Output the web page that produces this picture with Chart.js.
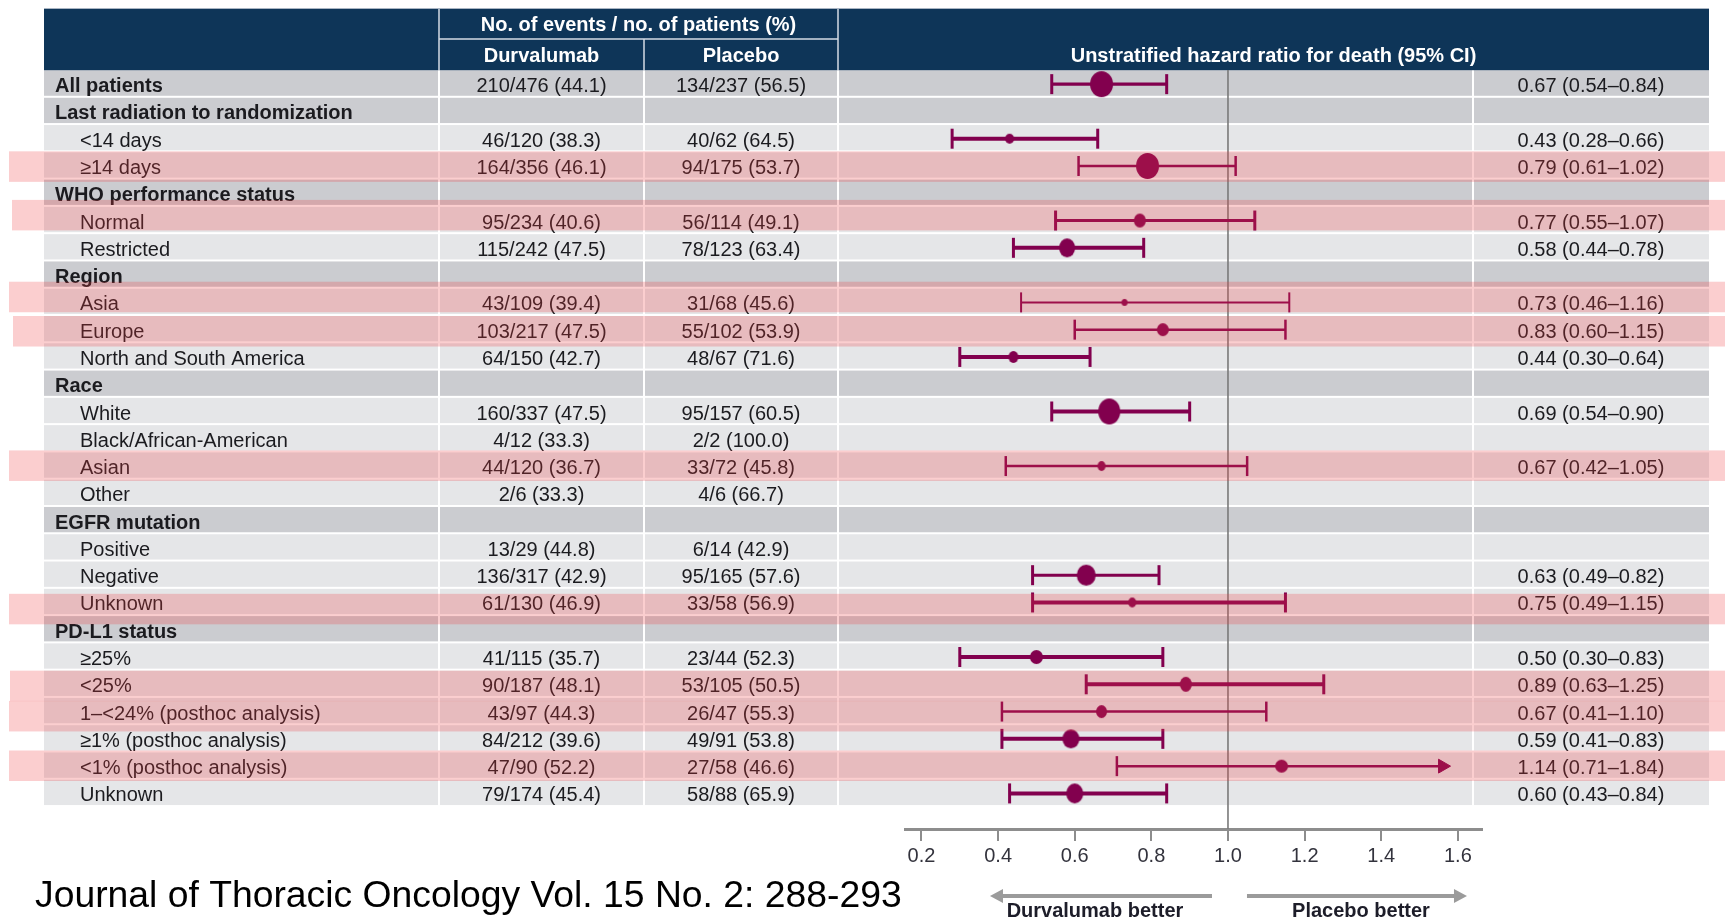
<!DOCTYPE html>
<html>
<head>
<meta charset="utf-8">
<title>Overall survival by subgroup</title>
<script src="https://cdn.jsdelivr.net/npm/chart.js@4.4.1/dist/chart.umd.min.js"></script>
<style>
  html, body { margin: 0; padding: 0; background: #ffffff; overflow: hidden; }
  canvas { display: block; }
</style>
</head>
<body>
<canvas id="forest" width="1725" height="921"></canvas>
<script>
// ---- Subgroup data -------------------------------------------------------
const subgroups = [
  'All patients',
  'Last radiation to randomization', '<14 days', '≥14 days',
  'WHO performance status', 'Normal', 'Restricted',
  'Region', 'Asia', 'Europe', 'North and South America',
  'Race', 'White', 'Black/African-American', 'Asian', 'Other',
  'EGFR mutation', 'Positive', 'Negative', 'Unknown',
  'PD-L1 status', '≥25%', '<25%', '1–<24% (posthoc analysis)',
  '≥1% (posthoc analysis)', '<1% (posthoc analysis)', 'Unknown'
];
const sectionHeadings = [
  'All patients', 'Last radiation to randomization', 'WHO performance status',
  'Region', 'Race', 'EGFR mutation', 'PD-L1 status'
];

// Durvalumab arm: events, patients, percent
const durEvents   = [210, null, 46, 164, null, 95, 115, null, 43, 103, 64, null, 160, 4, 44, 2, null, 13, 136, 61, null, 41, 90, 43, 84, 47, 79];
const durPatients = [476, null, 120, 356, null, 234, 242, null, 109, 217, 150, null, 337, 12, 120, 6, null, 29, 317, 130, null, 115, 187, 97, 212, 90, 174];
const durPct      = [44.1, null, 38.3, 46.1, null, 40.6, 47.5, null, 39.4, 47.5, 42.7, null, 47.5, 33.3, 36.7, 33.3, null, 44.8, 42.9, 46.9, null, 35.7, 48.1, 44.3, 39.6, 52.2, 45.4];

// Placebo arm: events, patients, percent
const plbEvents   = [134, null, 40, 94, null, 56, 78, null, 31, 55, 48, null, 95, 2, 33, 4, null, 6, 95, 33, null, 23, 53, 26, 49, 27, 58];
const plbPatients = [237, null, 62, 175, null, 114, 123, null, 68, 102, 67, null, 157, 2, 72, 6, null, 14, 165, 58, null, 44, 105, 47, 91, 58, 88];
const plbPct      = [56.5, null, 64.5, 53.7, null, 49.1, 63.4, null, 45.6, 53.9, 71.6, null, 60.5, 100.0, 45.8, 66.7, null, 42.9, 57.6, 56.9, null, 52.3, 50.5, 55.3, 53.8, 46.6, 65.9];

// Unstratified hazard ratio for death with 95% CI
const hazardRatio = [0.67, null, 0.43, 0.79, null, 0.77, 0.58, null, 0.73, 0.83, 0.44, null, 0.69, null, 0.67, null, null, null, 0.63, 0.75, null, 0.50, 0.89, 0.67, 0.59, 1.14, 0.60];
const ciLower     = [0.54, null, 0.28, 0.61, null, 0.55, 0.44, null, 0.46, 0.60, 0.30, null, 0.54, null, 0.42, null, null, null, 0.49, 0.49, null, 0.30, 0.63, 0.41, 0.41, 0.71, 0.43];
const ciUpper     = [0.84, null, 0.66, 1.02, null, 1.07, 0.78, null, 1.16, 1.15, 0.64, null, 0.90, null, 1.05, null, null, null, 0.82, 1.15, null, 0.83, 1.25, 1.10, 0.83, 1.84, 0.84];

const xTickValues = [0.2, 0.4, 0.6, 0.8, 1.0, 1.2, 1.4, 1.6];
const highlightedRows = [3, 5, 8, 9, 14, 19, 22, 23, 25];

// ---- Layout and style ----------------------------------------------------
const W = 1725, H = 921;
const FONT = '"Liberation Sans", Arial, Helvetica, sans-serif';
const MARK = '#82004e';
const TEXT = '#1b1b1f';
const TABLE_L = 44, TABLE_R = 1709;
const COL_DUR = 439, COL_PLB = 644, COL_PLOT = 838, COL_HR = 1473;
const HEAD_TOP = 8, HEAD_MID = 39;
const ROW_PX = 27.28, BODY_TOP = 70.5;
const AREA_TOP = 70, AREA_BOTTOM = 829, AREA_LEFT = 905, AREA_RIGHT = 1482;
const X_MIN = 0.157, X_MAX = 1.663;
const X_ARROW = 1.56;                       // CI beyond the axis ends in an arrow here
const yMin = -0.5 - (BODY_TOP - AREA_TOP) / ROW_PX;
const yMax = yMin + (AREA_BOTTOM - AREA_TOP) / ROW_PX;
const TEXT_DY = 2.5;                        // text sits a little below row centre

// marker ellipse size [w, h] and CI stroke per row
const markerSize = {0:[23,26], 2:[9,10], 3:[23,26], 5:[12,14], 6:[16,19], 8:[6,7], 9:[12,13], 10:[10,12],
  12:[22,26], 14:[8,10], 18:[19,21], 19:[8,10], 21:[13,14], 22:[12,15], 23:[11,13], 24:[17,19], 25:[13,13], 26:[17,20]};
const ciStroke = {0:3.2, 2:4, 3:2.5, 5:3, 6:4, 8:2, 9:2.5, 10:4, 12:4, 14:2.5, 18:3, 19:4, 21:4, 22:4, 23:2.5, 24:4, 25:2.5, 26:4};
// pink highlight bands: left edge and vertical shift
const bandLeft  = {3:9, 5:12, 8:9, 9:13, 14:9, 19:9, 22:10, 23:9, 25:9};
const bandShift = {3:-1, 5:-7, 8:-7, 9:0, 14:-2, 19:5, 22:0, 23:3, 25:-2};

function ellipseSprite(w, h, color) {
  const c = document.createElement('canvas');
  c.width = w + 2; c.height = h + 2;
  const g = c.getContext('2d');
  g.fillStyle = color;
  g.beginPath();
  g.ellipse(c.width / 2, c.height / 2, w / 2, h / 2, 0, 0, Math.PI * 2);
  g.fill();
  return c;
}

const estRows = subgroups.map((_, i) => i).filter(i => hazardRatio[i] !== null);

const datasets = [];
// line of no effect
datasets.push({
  data: [{x: 1, y: yMin}, {x: 1, y: yMax}],
  showLine: true, borderColor: '#7a7a7a', borderWidth: 1.6,
  pointRadius: 0, pointHoverRadius: 0, order: 10
});
// confidence interval segments
estRows.forEach(i => {
  datasets.push({
    data: [{x: ciLower[i], y: i}, {x: Math.min(ciUpper[i], X_ARROW), y: i}],
    showLine: true, borderColor: MARK, borderWidth: ciStroke[i],
    pointRadius: 0, pointHoverRadius: 0, order: 5
  });
});
// whisker caps (arrow head when the CI runs past the axis)
const capData = [], capStyle = [], capRot = [], capRadius = [], capWidth = [];
estRows.forEach(i => {
  capData.push({x: ciLower[i], y: i});
  capStyle.push('line'); capRot.push(90); capRadius.push(10); capWidth.push(Math.min(ciStroke[i], 3));
  const clipped = ciUpper[i] > X_ARROW;
  capData.push({x: Math.min(ciUpper[i], X_ARROW), y: i});
  capStyle.push(clipped ? 'triangle' : 'line');
  capRot.push(90);
  capRadius.push(clipped ? 8 : 10);
  capWidth.push(clipped ? 1 : Math.min(ciStroke[i], 3));
});
datasets.push({
  data: capData, pointStyle: capStyle, rotation: capRot, pointRadius: capRadius,
  pointBorderWidth: capWidth, pointBorderColor: MARK, pointBackgroundColor: MARK,
  pointHoverRadius: capRadius, order: 3
});
// point estimates
datasets.push({
  data: estRows.map(i => ({x: hazardRatio[i], y: i})),
  pointStyle: estRows.map(i => ellipseSprite(markerSize[i][0], markerSize[i][1], MARK)),
  pointRadius: estRows.map(i => markerSize[i][1] / 2),
  pointHoverRadius: estRows.map(i => markerSize[i][1] / 2),
  order: 0
});

function fmtArm(e, n, p) {
  return e === null ? '' : `${e}/${n} (${p.toFixed(1)})`;
}
function fmtHR(i) {
  return hazardRatio[i] === null ? '' :
    `${hazardRatio[i].toFixed(2)} (${ciLower[i].toFixed(2)}–${ciUpper[i].toFixed(2)})`;
}

const tablePlugin = {
  id: 'forestTable',
  beforeDraw(chart) {
    const ctx = chart.ctx, ys = chart.scales.y;
    const top = i => ys.getPixelForValue(i - 0.5);
    const bot = i => ys.getPixelForValue(i + 0.5);
    const bodyBottom = bot(subgroups.length - 1);
    ctx.save();
    ctx.fillStyle = '#ffffff';
    ctx.fillRect(0, 0, W, H);

    // header band
    ctx.fillStyle = '#0e3558';
    ctx.fillRect(TABLE_L, HEAD_TOP, TABLE_R - TABLE_L, BODY_TOP - HEAD_TOP);
    ctx.fillStyle = '#a9b5c3';
    ctx.fillRect(TABLE_L, HEAD_TOP, TABLE_R - TABLE_L, 1);
    ctx.strokeStyle = '#d3dae3';
    ctx.lineWidth = 1.5;
    ctx.beginPath();
    ctx.moveTo(COL_DUR, HEAD_TOP + 1); ctx.lineTo(COL_DUR, BODY_TOP);
    ctx.moveTo(COL_PLOT, HEAD_TOP + 1); ctx.lineTo(COL_PLOT, BODY_TOP);
    ctx.moveTo(COL_DUR, HEAD_MID); ctx.lineTo(COL_PLOT, HEAD_MID);
    ctx.moveTo(COL_PLB, HEAD_MID); ctx.lineTo(COL_PLB, BODY_TOP);
    ctx.stroke();

    ctx.fillStyle = '#ffffff';
    ctx.font = `bold 20px ${FONT}`;
    ctx.textAlign = 'center';
    ctx.textBaseline = 'middle';
    ctx.fillText('No. of events / no. of patients (%)', (COL_DUR + COL_PLOT) / 2, 25);
    ctx.fillText('Durvalumab', (COL_DUR + COL_PLB) / 2, 56);
    ctx.fillText('Placebo', (COL_PLB + COL_PLOT) / 2, 56);
    ctx.fillText('Unstratified hazard ratio for death (95% CI)', (COL_PLOT + TABLE_R) / 2, 56);

    // body rows
    subgroups.forEach((label, i) => {
      const isSection = sectionHeadings.includes(label) && i === subgroups.indexOf(label);
      ctx.fillStyle = isSection ? '#cbccd0' : '#e5e6e8';
      ctx.fillRect(TABLE_L, top(i), TABLE_R - TABLE_L, bot(i) - top(i) - 2);
    });
    ctx.fillStyle = '#ffffff';
    [COL_DUR, COL_PLB, COL_PLOT, COL_HR].forEach(x => ctx.fillRect(x - 1, BODY_TOP, 2, bodyBottom - BODY_TOP));

    // row texts
    ctx.fillStyle = TEXT;
    subgroups.forEach((label, i) => {
      const isSection = sectionHeadings.includes(label) && i === subgroups.indexOf(label);
      const cy = ys.getPixelForValue(i) + TEXT_DY;
      ctx.textAlign = 'left';
      ctx.font = `${isSection ? 'bold ' : ''}20px ${FONT}`;
      ctx.fillText(label, isSection ? 55 : 80, cy);
      ctx.font = `20px ${FONT}`;
      ctx.textAlign = 'center';
      ctx.fillText(fmtArm(durEvents[i], durPatients[i], durPct[i]), (COL_DUR + COL_PLB) / 2, cy);
      ctx.fillText(fmtArm(plbEvents[i], plbPatients[i], plbPct[i]), (COL_PLB + COL_PLOT) / 2, cy);
      ctx.fillText(fmtHR(i), (COL_HR + TABLE_R) / 2, cy);
    });
    ctx.restore();
  },
  afterDraw(chart) {
    const ctx = chart.ctx, xs = chart.scales.x, ys = chart.scales.y;
    const x1 = xs.getPixelForValue(1);
    ctx.save();

    // direction arrows under the axis
    const ay = 896;
    ctx.strokeStyle = '#9b9b9b';
    ctx.fillStyle = '#9b9b9b';
    ctx.lineWidth = 4;
    ctx.beginPath();
    ctx.moveTo(x1 - 16, ay); ctx.lineTo(x1 - 226, ay);
    ctx.moveTo(x1 + 19, ay); ctx.lineTo(x1 + 227, ay);
    ctx.stroke();
    ctx.beginPath();
    ctx.moveTo(x1 - 238, ay); ctx.lineTo(x1 - 225, ay - 7); ctx.lineTo(x1 - 225, ay + 7); ctx.closePath();
    ctx.moveTo(x1 + 239, ay); ctx.lineTo(x1 + 226, ay - 7); ctx.lineTo(x1 + 226, ay + 7); ctx.closePath();
    ctx.fill();

    ctx.fillStyle = '#1d1d29';
    ctx.font = `bold 20px ${FONT}`;
    ctx.textAlign = 'center';
    ctx.textBaseline = 'middle';
    ctx.fillText('Durvalumab better', x1 - 133, 911);
    ctx.fillText('Placebo better', x1 + 133, 911);

    // source line
    ctx.fillStyle = '#000000';
    ctx.font = `37.3px ${FONT}`;
    ctx.textAlign = 'left';
    ctx.fillText('Journal of Thoracic Oncology Vol. 15 No. 2: 288-293', 35, 897);

    // highlight bands
    ctx.fillStyle = 'rgba(240, 60, 62, 0.25)';
    highlightedRows.forEach(i => {
      const t = ys.getPixelForValue(i - 0.5) + bandShift[i];
      ctx.fillRect(bandLeft[i], t, W - bandLeft[i], 30.5);
    });
    ctx.restore();
  }
};

new Chart(document.getElementById('forest'), {
  type: 'scatter',
  data: { datasets },
  options: {
    responsive: false,
    devicePixelRatio: 1,
    animation: false,
    events: [],
    layout: { padding: { left: AREA_LEFT, right: W - AREA_RIGHT, top: AREA_TOP, bottom: 0 } },
    plugins: { legend: { display: false }, tooltip: { enabled: false } },
    scales: {
      x: {
        type: 'linear', position: 'bottom', min: X_MIN, max: X_MAX,
        afterBuildTicks: s => { s.ticks = xTickValues.map(v => ({ value: v })); },
        afterFit: s => { s.height = H - AREA_BOTTOM; },
        grid: { drawOnChartArea: false, drawTicks: true, tickLength: 12, color: '#8d8d8d', lineWidth: 2 },
        border: { display: true, color: '#8d8d8d', width: 3 },
        ticks: {
          font: { family: FONT, size: 20 }, color: '#33333d', padding: 3,
          maxRotation: 0, autoSkip: false, callback: v => Number(v).toFixed(1)
        }
      },
      y: { type: 'linear', display: false, reverse: true, min: yMin, max: yMax }
    }
  },
  plugins: [tablePlugin]
});
</script>
</body>
</html>
